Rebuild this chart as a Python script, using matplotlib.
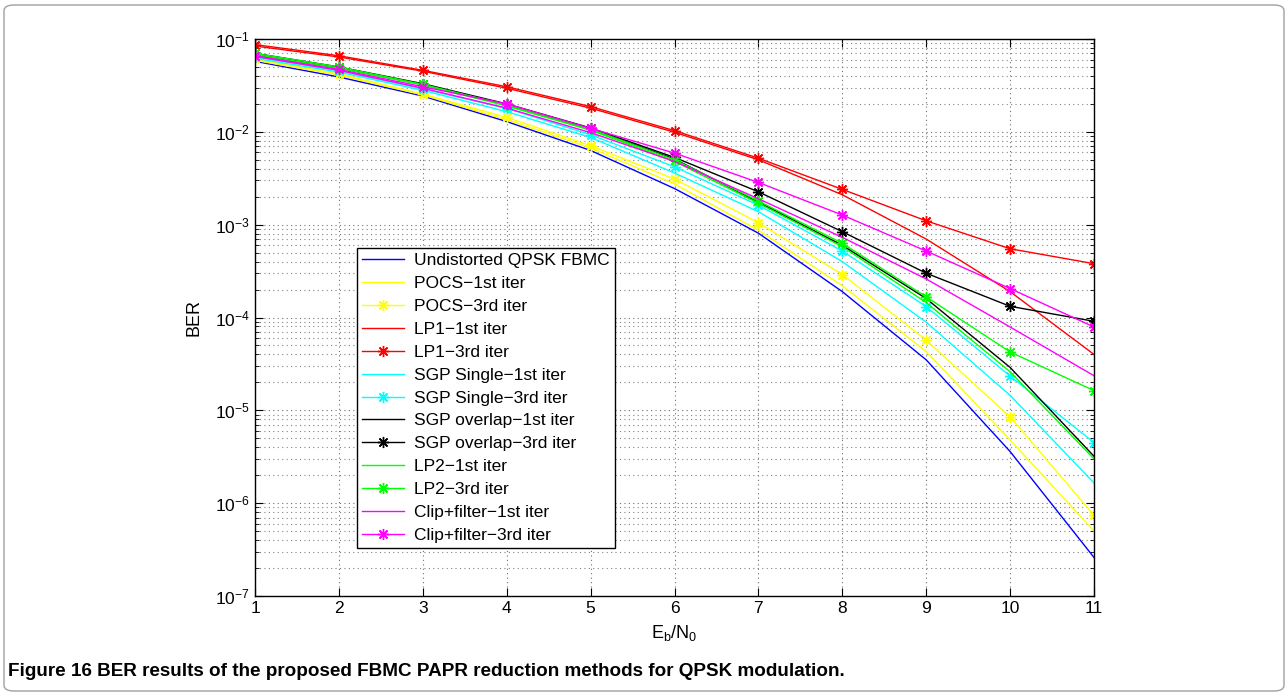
import matplotlib
matplotlib.use("Agg")
import matplotlib.pyplot as plt
from matplotlib.patches import FancyBboxPatch
from matplotlib.ticker import LogLocator, NullFormatter, FixedLocator

plt.rcParams['font.family'] = ['Liberation Sans', 'DejaVu Sans']
plt.rcParams['mathtext.fontset'] = 'custom'
plt.rcParams['mathtext.rm'] = 'Liberation Sans'
plt.rcParams['mathtext.it'] = 'Liberation Sans:italic'
plt.rcParams['mathtext.bf'] = 'Liberation Sans:bold'

ebn0 = [1, 2, 3, 4, 5, 6, 7, 8, 9, 10, 11]

undistorted = [5.75e-2, 3.9e-2, 2.43e-2, 1.29e-2, 6.3e-3, 2.45e-3, 8.1e-4, 1.9e-4, 3.5e-5, 3.6e-6, 2.6e-7]
pocs_1 = [5.9e-2, 4.1e-2, 2.5e-2, 1.35e-2, 6.7e-3, 2.75e-3, 8.7e-4, 2.2e-4, 4.3e-5, 4.8e-6, 5.0e-7]
pocs_3 = [6.1e-2, 4.2e-2, 2.55e-2, 1.43e-2, 7.1e-3, 3.1e-3, 1.05e-3, 2.9e-4, 5.7e-5, 8.5e-6, 7.4e-7]
lp1_1 = [8.4e-2, 6.4e-2, 4.5e-2, 2.95e-2, 1.8e-2, 9.9e-3, 5.0e-3, 2.1e-3, 7.0e-4, 1.9e-4, 4.0e-5]
lp1_3 = [8.7e-2, 6.6e-2, 4.6e-2, 3.06e-2, 1.87e-2, 1.03e-2, 5.2e-3, 2.4e-3, 1.1e-3, 5.5e-4, 3.8e-4]
sgps_1 = [6.2e-2, 4.4e-2, 2.8e-2, 1.65e-2, 8.7e-3, 3.6e-3, 1.38e-3, 4.0e-4, 8.9e-5, 1.45e-5, 1.65e-6]
sgps_3 = [6.4e-2, 4.55e-2, 2.9e-2, 1.79e-2, 9.3e-3, 4.2e-3, 1.62e-3, 5.2e-4, 1.31e-4, 2.34e-5, 4.5e-6]
sgpo_1 = [6.8e-2, 4.9e-2, 3.25e-2, 1.95e-2, 1.07e-2, 5.1e-3, 1.75e-3, 6.0e-4, 1.6e-4, 2.9e-5, 3.2e-6]
sgpo_3 = [7.0e-2, 5.0e-2, 3.3e-2, 2.0e-2, 1.1e-2, 5.3e-3, 2.26e-3, 8.4e-4, 3.0e-4, 1.32e-4, 9.1e-5]
lp2_1 = [6.8e-2, 4.85e-2, 3.2e-2, 1.9e-2, 1.04e-2, 4.8e-3, 1.7e-3, 5.8e-4, 1.45e-4, 2.6e-5, 3.0e-6]
lp2_3 = [7.0e-2, 5.0e-2, 3.25e-2, 1.95e-2, 1.07e-2, 5.0e-3, 1.8e-3, 6.3e-4, 1.67e-4, 4.25e-5, 1.63e-5]
clip_1 = [6.5e-2, 4.6e-2, 2.95e-2, 1.8e-2, 9.8e-3, 4.8e-3, 1.9e-3, 7.3e-4, 2.6e-4, 7.9e-5, 2.36e-5]
clip_3 = [6.6e-2, 4.7e-2, 3.06e-2, 2.0e-2, 1.09e-2, 5.9e-3, 2.85e-3, 1.27e-3, 5.2e-4, 2.05e-4, 7.9e-5]

labels = ['Undistorted QPSK FBMC', 'POCS\u22121st iter', 'POCS\u22123rd iter',
          'LP1\u22121st iter', 'LP1\u22123rd iter', 'SGP Single\u22121st iter',
          'SGP Single\u22123rd iter', 'SGP overlap\u22121st iter', 'SGP overlap\u22123rd iter',
          'LP2\u22121st iter', 'LP2\u22123rd iter', 'Clip+filter\u22121st iter',
          'Clip+filter\u22123rd iter']
series = [undistorted, pocs_1, pocs_3, lp1_1, lp1_3, sgps_1, sgps_3,
          sgpo_1, sgpo_3, lp2_1, lp2_3, clip_1, clip_3]
colors = ['#0000ff', '#ffff00', '#ffff00', '#ff0000', '#ff0000', '#00ffff', '#00ffff',
          '#000000', '#000000', '#00ff00', '#00ff00', '#ff00ff', '#ff00ff']
has_marker = [False, False, True, False, True, False, True, False, True, False, True, False, True]

fig = plt.figure(figsize=(12.88, 6.96), dpi=100)
ax = fig.add_axes([255/1288, 1-596/696, (1094-255)/1288, (596-39)/696])

for y, c, hm, lab in zip(series, colors, has_marker, labels):
    ax.semilogy(ebn0, y, color=c, marker=(8, 2, 0) if hm else None,
                markersize=8, markeredgewidth=1.0, lw=1.0, label=lab)

ax.set_xlim(1, 11)
ax.set_ylim(1e-7, 1e-1)
ax.xaxis.set_major_locator(FixedLocator(range(1, 12)))
ax.yaxis.set_major_locator(LogLocator(base=10, numticks=20))
ax.yaxis.set_minor_locator(LogLocator(base=10, subs=range(2, 10), numticks=100))
ax.yaxis.set_minor_formatter(NullFormatter())
ax.grid(True, which='major', color='#707070', linestyle=(0, (1, 3)), lw=0.8)
ax.grid(True, which='minor', axis='y', color='#808080', linestyle=(0, (1, 3)), lw=0.8)
ax.tick_params(which='both', direction='in', top=True, right=True, labelsize=12.5)
ax.tick_params(which='major', length=6)
ax.tick_params(which='minor', length=3)
for s in ax.spines.values():
    s.set_linewidth(1.0)

ax.set_xlabel(r'$\mathrm{E_b/N_0}$', fontsize=13, labelpad=5)
ax.set_ylabel('BER', fontsize=13, labelpad=9)

leg = ax.legend(loc='lower left', bbox_to_anchor=(0.1216, 0.086), fontsize=12.5,
                frameon=True, fancybox=False, edgecolor='black', framealpha=1,
                handlelength=2.4, handletextpad=0.6, labelspacing=0.445,
                borderpad=0.3, borderaxespad=0)
leg.get_frame().set_linewidth(1.0)

border = FancyBboxPatch((4/1288, 5/696), 1280/1288, 686/696,
                        boxstyle='round,pad=0,rounding_size=0.008',
                        transform=fig.transFigure, fill=False,
                        edgecolor='#a0a0a0', lw=1.0)
fig.patches.append(border)

fig.text(8/1288, 1-672/696,
         'Figure 16 BER results of the proposed FBMC PAPR reduction methods for QPSK modulation.',
         fontsize=13.6, fontweight='bold', va='center', ha='left')

fig.savefig('out.png', dpi=100)
